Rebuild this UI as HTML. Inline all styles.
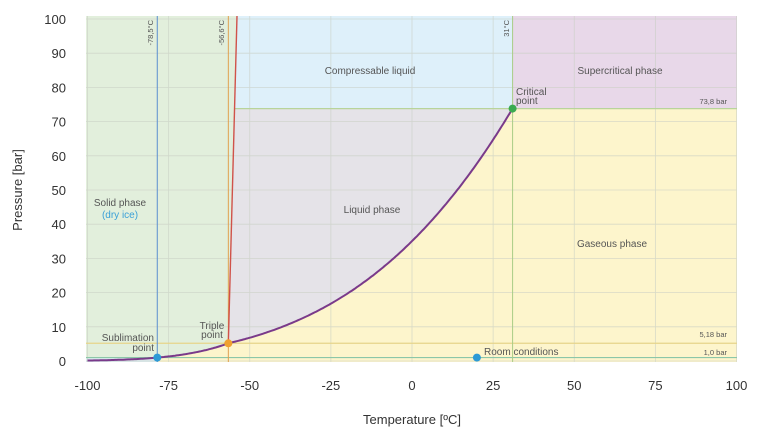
<!DOCTYPE html>
<html><head><meta charset="utf-8"><style>
body{margin:0;background:#fff;}
svg text{font-family:"Liberation Sans",sans-serif;}
</style></head><body>
<svg id="s" width="768" height="432" viewBox="0 0 768 432" xmlns="http://www.w3.org/2000/svg">
<rect width="768" height="432" fill="#fff"/>
<g id="bg"></g>
<g id="grid" stroke="#c9cfc4" stroke-width="0.8" opacity="0.7"></g>
<g id="lines"></g>
<g font-size="13" fill="#333" text-anchor="end" id="yt"></g>
<g font-size="13" fill="#333" text-anchor="middle" id="xt"></g>
<text x="412" y="424" font-size="13" fill="#333" text-anchor="middle">Temperature [ºC]</text>
<text transform="translate(22,190) rotate(-90)" font-size="13" fill="#333" text-anchor="middle">Pressure [bar]</text>
<g font-size="10" fill="#555" text-anchor="middle">
<text x="370" y="74">Compressable liquid</text>
<text x="620" y="74">Supercritical phase</text>
<text x="372" y="213">Liquid phase</text>
<text x="612" y="247">Gaseous phase</text>
<text x="120" y="206">Solid phase</text>
<text x="120" y="218" fill="#3aa0d8">(dry ice)</text>
<text x="516" y="95" text-anchor="start">Critical</text>
<text x="516" y="104" text-anchor="start">point</text>
<text x="212" y="329">Triple</text>
<text x="212" y="338">point</text>
<text x="154" y="341" text-anchor="end">Sublimation</text>
<text x="154" y="351" text-anchor="end">point</text>
<text x="484" y="355" text-anchor="start">Room conditions</text>
<text x="727" y="104" text-anchor="end" font-size="7.5">73,8 bar</text>
<text x="727" y="337" text-anchor="end" font-size="7.5">5,18 bar</text>
<text x="727" y="355" text-anchor="end" font-size="7.5">1,0 bar</text>
<text transform="translate(153,20) rotate(-90)" text-anchor="end" font-size="7.5">-78,5°C</text>
<text transform="translate(224,20) rotate(-90)" text-anchor="end" font-size="7.5">-56,6°C</text>
<text transform="translate(509,20) rotate(-90)" text-anchor="end" font-size="7.5">31°C</text>
</g>
<g id="dots"></g>
</svg>
<script>
var NS="http://www.w3.org/2000/svg";
function X(t){return 412+t*3.245;}
function Y(p){return 361-p*3.42;}
function el(par,tag,a){var e=document.createElementNS(NS,tag);for(var k in a)e.setAttribute(k,a[k]);document.getElementById(par).appendChild(e);return e;}
var L=86,R=737,T=16,B=362;
function P(t){var K=t+273.15;if(t<-56.6)return 5.18*Math.exp(-3169*(1/K-1/216.55));return 5.18*Math.exp(-1998*(1/K-1/216.55));}
var pts=[];for(var t=-100;t<=31.0001;t+=0.5){pts.push([X(t),Y(P(t))]);}
var curve=pts.map(function(p,i){return (i?'L':'M')+p[0].toFixed(1)+','+p[1].toFixed(1);}).join('');
var tx=X(-56.6),ty=Y(5.18),cx=X(31),cy=Y(73.8);
var meltTopX=237;
el('bg','rect',{x:L,y:T,width:R-L,height:B-T,fill:'#fdf5cc'});
var sub=pts.filter(function(p){return p[0]<=tx+0.1;});
var solidD='M'+L+','+T+'L'+meltTopX+','+T+'L'+tx+','+ty;
for(var i=sub.length-1;i>=0;i--)solidD+='L'+sub[i][0].toFixed(1)+','+sub[i][1].toFixed(1);
solidD+='L'+L+','+B+'Z';
el('bg','path',{d:solidD,fill:'#e2efdc'});
var liq=pts.filter(function(p){return p[0]>=tx-0.1;});
var liqD='M'+tx+','+ty;liq.forEach(function(p){liqD+='L'+p[0].toFixed(1)+','+p[1].toFixed(1);});
liqD+='L'+cx+','+cy+'L'+(meltTopX-2)+','+cy+'Z';
el('bg','path',{d:liqD,fill:'#e5e3e8'});
el('bg','path',{d:'M'+meltTopX+','+T+'L'+cx+','+T+'L'+cx+','+cy+'L'+(meltTopX-2)+','+cy+'Z',fill:'#def0fa'});
el('bg','rect',{x:cx,y:T,width:R-cx,height:cy-T,fill:'#e8d8e9'});
el('bg','rect',{x:L,y:Y(1),width:X(-78.5)-L,height:B-Y(1),fill:'#dcecf0'});
for(var p=0;p<=100;p+=10){el('grid','line',{x1:L,x2:R,y1:Y(p),y2:Y(p)});var t_=el('yt','text',{x:66,y:Y(p)+5});t_.textContent=p;}
for(var t=-100;t<=100;t+=25){el('grid','line',{x1:X(t),x2:X(t),y1:T,y2:B});var t2=el('xt','text',{x:X(t),y:390});t2.textContent=t;}
el('lines','line',{x1:L,x2:R,y1:Y(5.18),y2:Y(5.18),stroke:'#e6d48a','stroke-width':1.2});
el('lines','line',{x1:L,x2:R,y1:Y(1),y2:Y(1),stroke:'#8cc7a8','stroke-width':1.2});
el('lines','line',{x1:meltTopX-2,x2:R,y1:cy,y2:cy,stroke:'#b8d49a','stroke-width':1.2});
el('lines','line',{x1:X(-78.5),x2:X(-78.5),y1:T,y2:B,stroke:'#5b8fd0','stroke-width':1});
el('lines','line',{x1:tx,x2:tx,y1:T,y2:B,stroke:'#e0a050','stroke-width':1});
el('lines','line',{x1:cx,x2:cx,y1:T,y2:B,stroke:'#a9cc86','stroke-width':1});
el('lines','line',{x1:tx,x2:meltTopX,y1:ty,y2:T,stroke:'#d0524a','stroke-width':1.4});
el('lines','path',{d:curve,fill:'none',stroke:'#7a3a8a','stroke-width':2});
el('dots','circle',{cx:X(-78.5),cy:Y(1),r:4,fill:'#2c9ad6'});
el('dots','circle',{cx:tx,cy:ty,r:4,fill:'#f0a030'});
el('dots','circle',{cx:cx,cy:cy,r:4,fill:'#3aaa50'});
el('dots','circle',{cx:X(20),cy:Y(1),r:4,fill:'#2c9ad6'});
</script>
</body></html>
